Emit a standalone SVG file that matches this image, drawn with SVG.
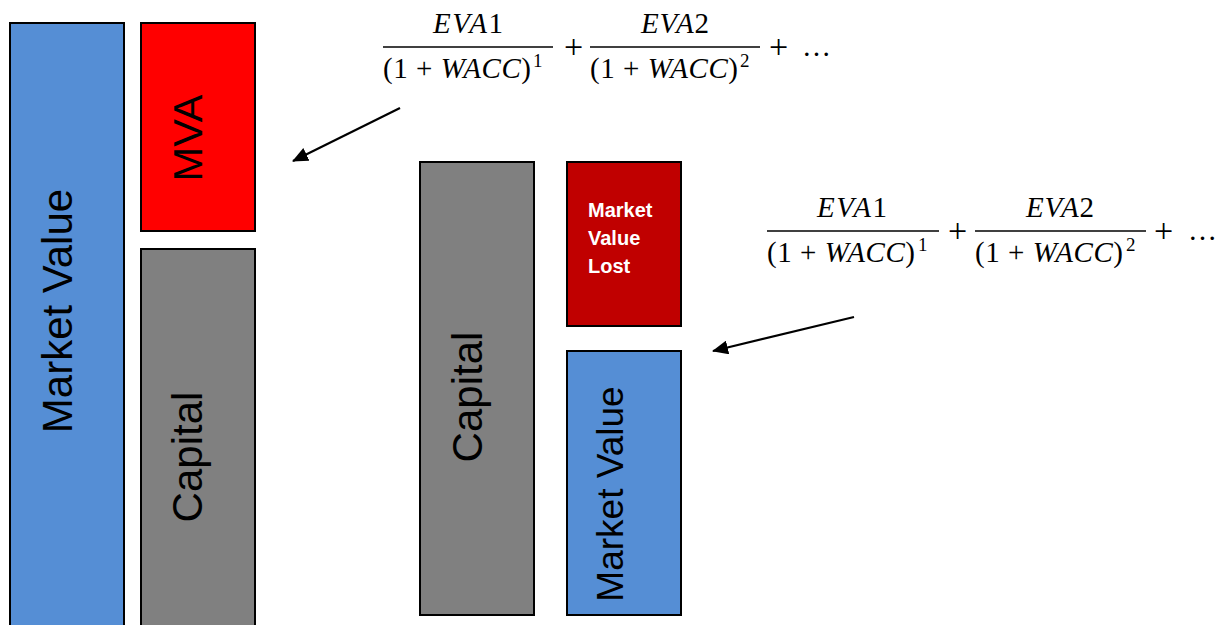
<svg xmlns="http://www.w3.org/2000/svg" width="1224" height="625" viewBox="0 0 1224 625">
<style>
.box{stroke:#000;stroke-width:2}
.lbl{font-family:"Liberation Sans",Arial,sans-serif;fill:#000;text-anchor:middle}
.wl{font-family:"Liberation Sans",Arial,sans-serif;font-weight:bold;font-size:20px;fill:#fff}
.m{font-family:"Liberation Serif","Times New Roman",serif;font-size:29px;fill:#000}
.p{font-family:"Liberation Serif","Times New Roman",serif;font-size:34px;fill:#000}
.i{font-style:italic}
.sup{font-family:"Liberation Serif","Times New Roman",serif;font-size:19px;fill:#000}
.bar{stroke:#000;stroke-width:1.5}
.arr{stroke:#000;stroke-width:2.2;fill:none}
</style>
<defs>
<marker id="ahb" markerWidth="16" markerHeight="14" refX="15" refY="7" orient="auto" markerUnits="userSpaceOnUse" viewBox="0 0 16 14">
<path d="M0,0 L16,7 L0,14 z" fill="#000"/>
</marker>
</defs>
<rect width="1224" height="625" fill="#fff"/>

<g id="market-value-left">
<rect class="box" x="10" y="23" width="114" height="620" fill="#558ED5"/>
<text class="lbl" x="72" y="311" font-size="42" transform="rotate(-90 72 311)">Market Value</text>
</g>
<g id="mva">
<rect class="box" x="141" y="23" width="114" height="208" fill="#FF0000"/>
<text class="lbl" x="202" y="138" font-size="41.5" transform="rotate(-90 202 138)">MVA</text>
</g>
<g id="capital-left">
<rect class="box" x="141" y="249" width="114" height="400" fill="#808080"/>
<text class="lbl" x="202" y="457" font-size="42" transform="rotate(-90 202 457)">Capital</text>
</g>
<g id="capital-mid">
<rect class="box" x="420" y="162" width="114" height="453" fill="#808080"/>
<text class="lbl" x="482" y="397" font-size="42" transform="rotate(-90 482 397)">Capital</text>
</g>
<g id="market-value-lost">
<rect class="box" x="567" y="162" width="114" height="164" fill="#C00000"/>
<text class="wl" x="588" y="217">Market</text>
<text class="wl" x="588" y="245">Value</text>
<text class="wl" x="588" y="273">Lost</text>
</g>
<g id="market-value-right">
<rect class="box" x="567" y="351" width="114" height="264" fill="#558ED5"/>
<text class="lbl" x="623" y="494" font-size="37" transform="rotate(-90 623 494)">Market Value</text>
</g>

<g id="formula-1">
<text class="m" x="433" y="33" textLength="70" lengthAdjust="spacing"><tspan class="i">EVA</tspan>1</text>
<line class="bar" x1="383" y1="47" x2="553" y2="47"/>
<text class="m" x="383" y="78" textLength="148" lengthAdjust="spacing">(1 + <tspan class="i">WACC</tspan>)</text>
<text class="sup" x="533" y="67">1</text>
<text class="p" x="564" y="58">+</text>
<text class="m" x="641" y="33" textLength="68" lengthAdjust="spacing"><tspan class="i">EVA</tspan>2</text>
<line class="bar" x1="590" y1="47" x2="760" y2="47"/>
<text class="m" x="590" y="78" textLength="148" lengthAdjust="spacing">(1 + <tspan class="i">WACC</tspan>)</text>
<text class="sup" x="740" y="67">2</text>
<text class="p" x="769" y="58">+</text>
<text class="m" x="802" y="56">…</text>
</g>

<g id="formula-2">
<text class="m" x="817" y="217" textLength="70" lengthAdjust="spacing"><tspan class="i">EVA</tspan>1</text>
<line class="bar" x1="767" y1="231" x2="939" y2="231"/>
<text class="m" x="767" y="262" textLength="148" lengthAdjust="spacing">(1 + <tspan class="i">WACC</tspan>)</text>
<text class="sup" x="918" y="251">1</text>
<text class="p" x="948" y="242">+</text>
<text class="m" x="1026" y="217" textLength="68" lengthAdjust="spacing"><tspan class="i">EVA</tspan>2</text>
<line class="bar" x1="975" y1="231" x2="1146" y2="231"/>
<text class="m" x="975" y="262" textLength="148" lengthAdjust="spacing">(1 + <tspan class="i">WACC</tspan>)</text>
<text class="sup" x="1126" y="251">2</text>
<text class="p" x="1154" y="242">+</text>
<text class="m" x="1188" y="240">…</text>
</g>

<g id="connectors">
<line class="arr" x1="400" y1="108" x2="293" y2="161" marker-end="url(#ahb)"/>
<line class="arr" x1="854" y1="317" x2="713" y2="351" marker-end="url(#ahb)"/>
</g>
</svg>
